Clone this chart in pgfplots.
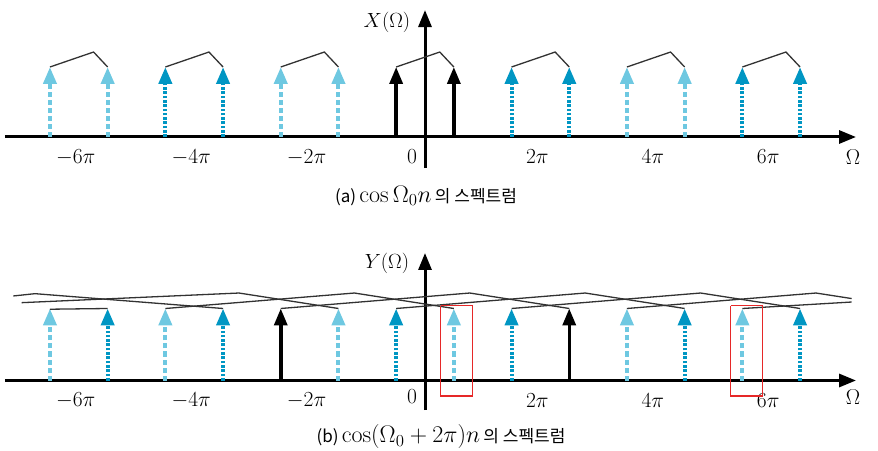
\RequirePackage{fix-cm}
\documentclass[border=0pt]{standalone}
\usepackage{fontspec}
\usepackage{pgfplots}
\pgfplotsset{compat=1.18}
\usetikzlibrary{arrows.meta}
\newfontfamily\kr{Noto Sans CJK KR}
\definecolor{lightb}{RGB}{110,200,225}
\definecolor{darkb}{RGB}{0,150,195}
\definecolor{env}{RGB}{50,50,50}
\definecolor{boxred}{RGB}{230,40,40}
\newcommand\krs{\kr\fontsize{17}{20}\selectfont}
\newcommand\mth{\fontsize{24}{28}\selectfont}
\tikzset{
  tip/.style={-{Triangle[width=13pt,length=17pt]}},
  lightarr/.style={lightb, line width=4pt, dash pattern=on 5pt off 3pt, tip},
  darkarr/.style={darkb, line width=4pt, dash pattern=on 2.6pt off 1.7pt, tip},
  blackarr/.style={black, line width=3.5pt, tip},
  envl/.style={env, line width=1.3pt},
}
\pgfplotsset{
  panel/.style={
    anchor=origin, x=57.7pt, axis lines=middle,
    xmin=-7.28, xmax=7.47,
    axis line style={line width=3pt, -{Triangle[width=13pt,length=17pt]}},
    xtick={-6,-4,-2,2,4,6},
    xticklabels={$-6\pi$,$-4\pi$,$-2\pi$,$2\pi$,$4\pi$,$6\pi$},
    ytick=\empty,
    major tick length=0pt,
    xticklabel style={anchor=center, yshift=-20pt, xshift=-3pt, font=\fontsize{21.5}{25}\selectfont},
    clip=false,
    hide obscured x ticks=false,
  },
}
\begin{document}
\begin{tikzpicture}
\path[use as bounding box] (0,0) rectangle (878pt,450pt);
% ---------------- panel (a)
\begin{axis}[panel, at={(425pt,313pt)}, y=70pt, ymin=-0.443, ymax=1.814]
\addplot[lightarr, quiver={u=0,v=1}, no markers] coordinates {(-6.5,0) (-5.5,0) (-2.5,0) (-1.5,0) (3.5,0) (4.5,0)};
\addplot[darkarr, quiver={u=0,v=1}, no markers] coordinates {(-4.5,0) (-3.5,0) (1.5,0) (2.5,0) (5.5,0) (6.5,0)};
\addplot[blackarr, quiver={u=0,v=1}, no markers] coordinates {(-0.5,0) (0.5,0)};
\addplot[envl] coordinates {(-6.5,1) (-5.744,1.214) (-5.5,1)};
\addplot[envl] coordinates {(-4.5,1) (-3.744,1.214) (-3.5,1)};
\addplot[envl] coordinates {(-2.5,1) (-1.744,1.214) (-1.5,1)};
\addplot[envl] coordinates {(-0.5,1) (0.256,1.214) (0.5,1)};
\addplot[envl] coordinates {(1.5,1) (2.256,1.214) (2.5,1)};
\addplot[envl] coordinates {(3.5,1) (4.256,1.214) (4.5,1)};
\addplot[envl] coordinates {(5.5,1) (6.256,1.214) (6.5,1)};
\node[font=\fontsize{20.5}{24}\selectfont] at (axis cs:-0.659,1.643) {$X(\Omega)$};
\node[font=\fontsize{21.5}{25}\selectfont] at (axis cs:7.418,-0.286) {$\Omega$};
\node[font=\fontsize{21.5}{25}\selectfont] at (axis cs:-0.225,-0.286) {$0$};
\end{axis}
% ---------------- panel (b)
\begin{axis}[panel, at={(425pt,69.5pt)}, y=72pt, ymin=-0.41, ymax=1.771]
\addplot[lightarr, quiver={u=0,v=1}, no markers] coordinates {(-6.5,0) (-4.5,0) (-1.5,0) (0.5,0) (3.5,0) (5.5,0)};
\addplot[darkarr, quiver={u=0,v=1}, no markers] coordinates {(-5.5,0) (-3.5,0) (-0.5,0) (1.5,0) (4.5,0) (6.5,0)};
\addplot[blackarr, quiver={u=0,v=1}, no markers] coordinates {(-2.5,0) (2.5,0)};
\addplot[envl] coordinates {(-7.135,1.174) (-6.759,1.206) (-3.5,1)};
\addplot[envl] coordinates {(-6.99,1.081) (-3.224,1.215) (-1.5,1)};
\addplot[envl] coordinates {(-6.5,0.99) (-5.5,1)};
\addplot[envl] coordinates {(-4.5,1) (-1.224,1.215) (0.5,1)};
\addplot[envl] coordinates {(-2.5,1) (0.776,1.215) (2.5,1)};
\addplot[envl] coordinates {(-0.5,1) (2.776,1.215) (4.5,1)};
\addplot[envl] coordinates {(1.5,1) (4.776,1.215) (6.5,1)};
\addplot[envl] coordinates {(3.5,1) (6.776,1.215) (7.395,1.138)};
\addplot[envl] coordinates {(5.5,1) (7.395,1.09)};
\addplot[boxred, line width=1.2pt] coordinates {(0.272,1.039) (0.820,1.039) (0.820,-0.215) (0.272,-0.215) (0.272,1.039)};
\addplot[boxred, line width=1.2pt] coordinates {(5.298,1.039) (5.846,1.039) (5.846,-0.215) (5.298,-0.215) (5.298,1.039)};
\node[font=\fontsize{20.5}{24}\selectfont] at (axis cs:-0.659,1.632) {$Y(\Omega)$};
\node[font=\fontsize{21.5}{25}\selectfont] at (axis cs:7.418,-0.229) {$\Omega$};
\node[font=\fontsize{21.5}{25}\selectfont] at (axis cs:-0.225,-0.229) {$0$};
\end{axis}
\node at (426pt,254pt) {{\krs (a)} {\mth $\cos\Omega_0 n$} {\krs 의 스펙트럼}};
\node at (441pt,13pt) {{\krs (b)} {\mth $\cos(\Omega_0+2\pi)n$} {\krs 의 스펙트럼}};
\end{tikzpicture}
\end{document}
